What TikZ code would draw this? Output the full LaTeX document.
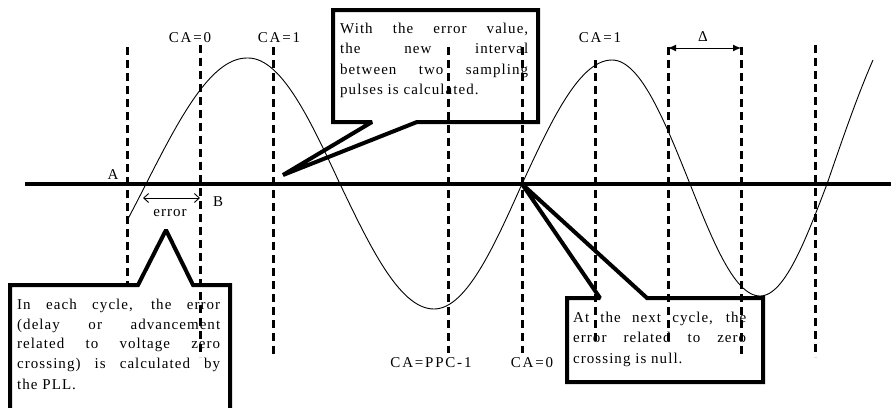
\documentclass[tikz,border=0pt]{standalone}
\usepackage{fontspec}
\setmainfont{Liberation Serif}
\newfontfamily\boxfont[LetterSpace=7]{Liberation Serif}
\newfontfamily\labfont[LetterSpace=12]{Liberation Serif}
\usetikzlibrary{arrows.meta}
\newcommand\jline[1]{\hbox to\hsize{#1}}
\begin{document}
\begin{tikzpicture}[x=1pt,y=-1pt,
  vline/.style={line width=3pt, dash pattern=on 8pt off 5pt},
  axisline/.style={line width=4.3pt},
  wave/.style={line width=0.9pt},
  callout/.style={line width=4pt, line join=miter, miter limit=2},
  lab/.style={font=\labfont\fontsize{15}{17}\selectfont, inner sep=0pt},
  errlab/.style={font=\boxfont\fontsize{15}{17}\selectfont, inner sep=0pt},
  txt/.style={font=\boxfont\fontsize{15}{20.5}\selectfont, inner sep=0pt, anchor=base west},
]
\useasboundingbox (0,0) rectangle (891,407);

% axis
\coordinate (ax1) at (25,184);
\coordinate (ax2) at (891,184);
\draw[axisline] (ax1) -- (ax2);

% dashed sampling lines
\draw[vline] (127,47) -- (127,283);
\draw[vline] (200,45) -- (200,357);
\draw[vline] (273,47) -- (273,358);
\draw[vline] (448,47) -- (448,353);
\draw[vline] (522,47) -- (522,353);
\draw[vline] (595,60) -- (595,343);
\draw[vline] (668,47) -- (668,343);
\draw[vline] (741,47) -- (741,357);
\draw[vline] (815,45) -- (815,357);

% wave
\draw[wave] plot[domain=127:248, samples=40] (\x,{184-126*sin(90*(\x-146)/101)})
  -- plot[domain=248:340, samples=30] (\x,{184-126*cos(90*(\x-248)/92)})
  -- plot[domain=340:434, samples=30] (\x,{184+125*sin(90*(\x-340)/94)})
  -- plot[domain=434:522, samples=30] (\x,{184+125*cos(90*(\x-434)/88)})
  -- plot[domain=522:612, samples=30] (\x,{184-124*sin(90*(\x-522)/90)})
  -- plot[domain=612:690, samples=30] (\x,{184-124*cos(90*(\x-612)/78)})
  -- plot[domain=690:760, samples=30] (\x,{184+112*sin(90*(\x-690)/70)})
  -- plot[domain=760:827, samples=30] (\x,{184+112*cos(90*(\x-760)/67)})
  -- plot[domain=827:873, samples=20] (\x,{184-200*sin(90*(\x-827)/108)});

% callouts
\draw[callout] (333,122) -- (372,122) -- (283,175) -- (417,122) -- (538,122) -- (538,10) -- (333,10) -- cycle;
\draw[callout] (10,412) -- (10,285) -- (138,285) -- (166,230) -- (193,285) -- (230,285) -- (230,412);
\draw[callout] (567,298) -- (600,298) -- (522,184) -- (647,298) -- (763,298) -- (763,382) -- (567,382) -- cycle;

% callout texts
\node[txt] (t1) at (340,33) {\vtop{\hsize=188pt
  \jline{With the error value,}
  \jline{the new interval}
  \jline{between two sampling}
  \hbox{pulses is calculated.}}};
\node[txt] (t2) at (17,309.5) {\vtop{\hsize=203pt \baselineskip=19.5pt
  \jline{In each cycle, the error}
  \jline{(delay or advancement}
  \jline{related to voltage zero}
  \jline{crossing) is calculated by}
  \vskip 2pt
  \hbox{the PLL.}}};
\node[txt] (t3) at (573,322) {\vtop{\hsize=173pt
  \jline{At the next cycle, the}
  \jline{error related to zero}
  \hbox{crossing is null.}}};

% labels
\node[lab] (ca0a) at (190,38) {CA=0};
\node[lab] (ca1a) at (279,38) {CA=1};
\node[lab] (ca1b) at (600,38) {CA=1};
\node[lab] (delta) at (703,37) {Δ};
\node[lab] (ppc) at (431,363) {CA=PPC-1};
\node[lab] (ca0b) at (532,363) {CA=0};
\node[lab] (A) at (113,175) {A};
\node[lab] (B) at (218,202) {B};
\node[errlab] (err) at (170,213) {error};

% arrows
\coordinate (d1) at (668,48);
\coordinate (d2) at (741,48);
\draw[line width=1pt, {Latex[length=8pt,width=7pt]}-{Latex[length=8pt,width=7pt]}] (d1) -- (d2);
\coordinate (e1) at (143,198);
\coordinate (e2) at (200,198);
\draw[line width=0.9pt, {Straight Barb[length=5pt,width=9pt]}-{Straight Barb[length=5pt,width=9pt]}] (e1) -- (e2);
\end{tikzpicture}
\end{document}
